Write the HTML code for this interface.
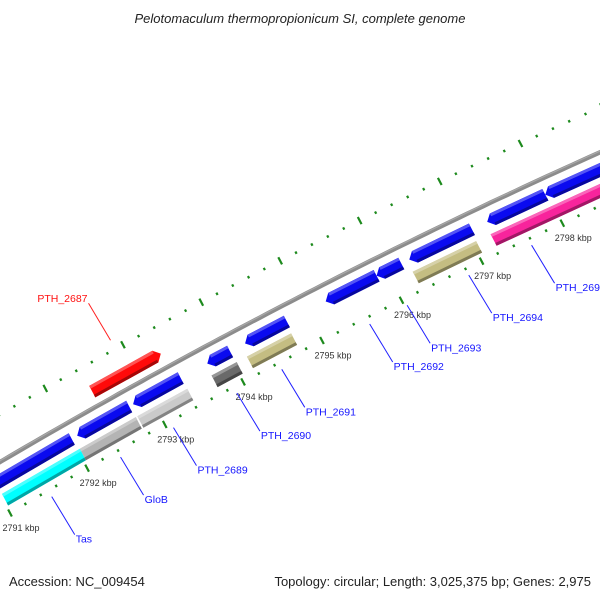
<!DOCTYPE html>
<html><head><meta charset="utf-8"><style>
body{margin:0;background:#fff;}
svg{display:block;font-family:"Liberation Sans","DejaVu Sans",sans-serif;}
</style></head><body>
<svg id="chart" width="600" height="600" viewBox="0 0 600 600" xmlns="http://www.w3.org/2000/svg">
<rect width="600" height="600" fill="#fff"/>
<text x="300" y="23" text-anchor="middle" font-size="13" font-style="italic" fill="#222">Pelotomaculum thermopropionicum SI, complete genome</text>
<text x="9" y="586" font-size="13" fill="#222">Accession: NC_009454</text>
<text x="591" y="586" text-anchor="end" font-size="13" fill="#222">Topology: circular; Length: 3,025,375 bp; Genes: 2,975</text>
<g id="plot"></g>
</svg>
<script>
// Gene data (kbp)
const blueStarts = [2790.6, 2792.07, 2792.79, 2793.74, 2794.22, 2795.24, 2795.88, 2796.29, 2797.26, 2797.98];
const blueEnds   = [2792.0, 2792.74, 2793.40, 2794.03, 2794.75, 2795.88, 2796.19, 2797.07, 2797.98, 2798.9];
const lowerStarts = [2791.02, 2792.03, 2792.77, 2793.72, 2794.17, 2796.26, 2797.23];
const lowerEnds   = [2792.03, 2792.75, 2793.41, 2794.04, 2794.73, 2797.05, 2798.9];
const lowerColors = ['#00ffff', '#b4b4b4', '#cacaca', '#6a6a6a', '#c4bd82', '#c4bd82', '#f8249c'];
const redStarts = [2792.45];
const redEnds = [2793.33];
const tickLabels = [2791, 2792, 2793, 2794, 2795, 2796, 2797, 2798];
const geneNames = ['Tas', 'GloB', 'PTH_2689', 'PTH_2690', 'PTH_2691', 'PTH_2692', 'PTH_2693', 'PTH_2694', 'PTH_2695'];
const geneLabelPos = [2791.5, 2792.39, 2793.07, 2793.88, 2794.45, 2795.56, 2796.03, 2796.8, 2797.58];
const redNames = ['PTH_2687'];
const redLabelPos = [2792.9];

const NS = 'http://www.w3.org/2000/svg';
const plot = document.getElementById('plot');
// axis: kbp -> screen (nearly straight arc)
function P(u, v) {
  const t = u - 2791;
  const b = -0.65 * t * (7 - t);
  const vv = v + b;
  return [10 + 78.9 * t + 0.4646 * vv, 513 - 41.4 * t + 0.8855 * vv];
}
function mk(tag, attrs) {
  const e = document.createElementNS(NS, tag);
  for (const k in attrs) e.setAttribute(k, attrs[k]);
  plot.appendChild(e);
  return e;
}
function pts(arr) { return arr.map(p => p[0].toFixed(1) + ',' + p[1].toFixed(1)).join(' '); }
function shade(hex, f) {
  const n = parseInt(hex.slice(1), 16);
  let r = n >> 16, g = (n >> 8) & 255, b = n & 255;
  if (f > 0) { r += (255 - r) * f; g += (255 - g) * f; b += (255 - b) * f; }
  else { r *= 1 + f; g *= 1 + f; b *= 1 + f; }
  return 'rgb(' + Math.round(r) + ',' + Math.round(g) + ',' + Math.round(b) + ')';
}

// backbone
const bb = [];
for (let u = 2790.2; u <= 2799.3; u += 0.1) bb.push(P(u, -49));
const bbl = mk('polyline', {points: pts(bb), fill: 'none', stroke: '#8c8c8c', 'stroke-width': 4.5});


const bbh = mk('polyline', {points: pts(bb.map(p => [p[0] - 0.5, p[1] - 1])), fill: 'none', stroke: '#a8a8a8', 'stroke-width': 1.2});



// ticks
function tickRow(v0, name) {
  for (let i = 0; i <= 45; i++) {
    const u = 2790.2 + i * 0.2;
    const major = Math.abs(u - Math.round(u)) < 0.01;
    const half = major ? 4 : 1.3;
    const a = P(u, v0 - half), b = P(u, v0 + half);
    const l = mk('line', {x1: a[0], y1: a[1], x2: b[0], y2: b[1], stroke: '#1d8a1d', 'stroke-width': 2.2});
    
    
  }
}
tickRow(0, 'lower-scale');
tickRow(-90, 'upper-scale');
tickLabels.forEach(k => {
  const p = P(k, 0);
  const t = mk('text', {x: p[0] + 11, y: p[1] + 18, 'text-anchor': 'middle', 'font-size': 9, fill: '#333'});
  t.textContent = k + ' kbp';
  
  
});

// genes
const H = 13, A = 0.07;
function gene(s, e, vc, dir, color, name) {
  const t = vc - H / 2, b = vc + H / 2;
  let poly;
  if (dir < 0) poly = [P(s, vc), P(s + A, t), P(e, t), P(e, b), P(s + A, b)];
  else if (dir > 0) poly = [P(s, t), P(e - A, t), P(e, vc), P(e - A, b), P(s, b)];
  else poly = [P(s, t), P(e, t), P(e, b), P(s, b)];
  const g = mk('polygon', {points: pts(poly), fill: color});
  
  
  const s2 = dir < 0 ? s + A : s, e2 = dir > 0 ? e - A : e;
  const top = mk('polygon', {points: pts([P(s2, t), P(e2, t), P(e2, t + 3), P(s2, t + 3)]), fill: shade(color, 0.3)});
  
  
  const bot = mk('polygon', {points: pts([P(s2, b - 3), P(e2, b - 3), P(e2, b), P(s2, b)]), fill: shade(color, -0.35)});
  
  
}
blueStarts.forEach((s, i) => gene(s, blueEnds[i], -33, -1, '#0a0af0', 'blue-gene-' + i));
lowerStarts.forEach((s, i) => gene(s, lowerEnds[i], -14, 0, lowerColors[i], 'lower-gene-' + i));
redStarts.forEach((s, i) => gene(s, redEnds[i], -64, 1, '#ff0a0a', 'red-gene-' + i));

// gene labels
geneNames.forEach((n, i) => {
  const a = P(geneLabelPos[i], 7);
  const l = mk('line', {x1: a[0], y1: a[1], x2: a[0] + 23, y2: a[1] + 38, stroke: '#2020ff', 'stroke-width': 1});
  
  
  const t = mk('text', {x: a[0] + 24, y: a[1] + 46, 'font-size': 10.5, fill: '#1515ff'});
  t.textContent = n;
  
  
});
redNames.forEach((n, i) => {
  const a = P(redLabelPos[i], -100);
  const l = mk('line', {x1: a[0], y1: a[1], x2: a[0] - 22, y2: a[1] - 37, stroke: '#ff2020', 'stroke-width': 1});
  
  
  const t = mk('text', {x: a[0] - 23, y: a[1] - 38, 'text-anchor': 'end', 'font-size': 10.5, fill: '#ff1010'});
  t.textContent = n;
  
  
});
</script>
</body></html>
